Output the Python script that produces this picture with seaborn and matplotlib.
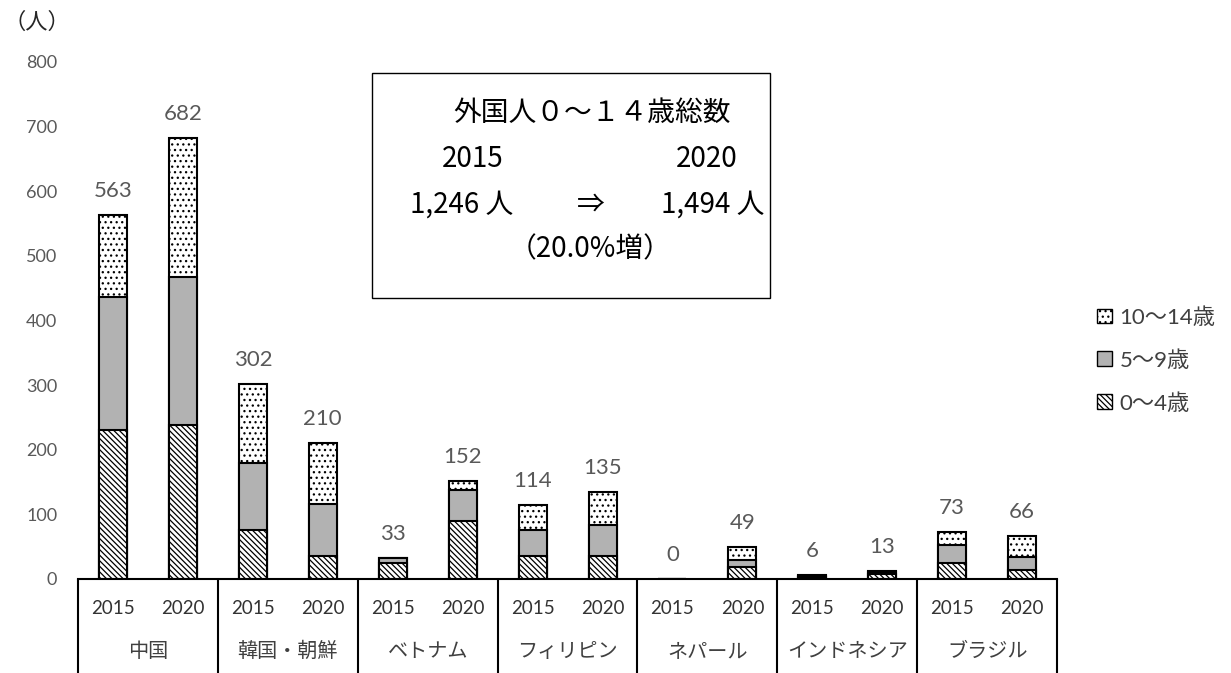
import numpy as np
import pandas as pd
import seaborn as sns
import matplotlib.pyplot as plt
from matplotlib.patches import Patch, Rectangle

sns.set_theme(style="white")
plt.rcParams['font.family'] = ['Lato', 'Noto Sans CJK JP', 'DejaVu Sans']
plt.rcParams['hatch.linewidth'] = 0.9
CJK = ['Noto Sans CJK JP', 'DejaVu Sans']

countries = ['中国', '韓国・朝鮮', 'ベトナム', 'フィリピン', 'ネパール', 'インドネシア', 'ブラジル']
years = ['2015', '2020']
age_0_4 = [231, 239, 76, 35, 24, 90, 35, 36, 0, 19, 3, 7, 25, 14]
age_5_9 = [205, 228, 104, 81, 9, 47, 41, 48, 0, 10, 2, 4, 27, 20]
age_10_14 = [127, 215, 122, 94, 0, 15, 38, 51, 0, 20, 1, 2, 21, 32]
totals = [563, 682, 302, 210, 33, 152, 114, 135, 0, 49, 6, 13, 73, 66]
legend_labels = ['10～14歳', '5～9歳', '0～4歳']

df = pd.DataFrame({
    'country': np.repeat(countries, 2),
    'year': years * len(countries),
    'a04': age_0_4,
    'a59': age_5_9,
    'a1014': age_10_14,
})
df['key'] = df['country'] + df['year']
df['c1'] = df['a04']
df['c2'] = df['c1'] + df['a59']
df['c3'] = df['c2'] + df['a1014']

DOTS = '...'
DIAG = '\\' * 6

fig, ax = plt.subplots(figsize=(12.31, 6.73), dpi=100)
fig.subplots_adjust(left=0.0634, right=0.8587, bottom=0.1397, top=0.9079)

bar_kw = dict(width=0.4, edgecolor='black', linewidth=1.5, saturation=1, errorbar=None, ax=ax)
sns.barplot(data=df, x='key', y='c3', color='white', hatch=DOTS, **bar_kw)
sns.barplot(data=df, x='key', y='c2', color='#b2b2b2', **bar_kw)
sns.barplot(data=df, x='key', y='c1', color='white', hatch=DIAG, **bar_kw)

ax.bar_label(ax.containers[0], labels=[str(t) for t in totals], padding=10,
             color='#595959', fontsize=16)

ax.set_xlim(-0.5, 13.5)
ax.set_ylim(0, 800)
ax.set_yticks(range(0, 801, 100))
ax.set_xticks([])
ax.set_xlabel('')
ax.set_ylabel('')
ax.tick_params(axis='y', length=0, pad=15, labelsize=13, labelcolor='#595959')
for s in ['left', 'top', 'right']:
    ax.spines[s].set_visible(False)
ax.spines['bottom'].set_color('black')
ax.spines['bottom'].set_linewidth(1.5)

# category table under the axis
trans = ax.get_xaxis_transform()
for i in range(len(df)):
    ax.text(i, -0.058, df['year'][i], transform=trans, ha='center', va='center',
            fontsize=13.5, color='#333333')
for g, c in enumerate(countries):
    ax.text(2 * g + 0.5, -0.141, c, transform=trans, ha='center', va='center',
            fontsize=14.5, color='#404040', family=CJK)
for b in np.arange(-0.5, 14, 2):
    ax.plot([b, b], [0, -0.19], transform=trans, color='black', lw=1.5, clip_on=False)

# legend
handles = [
    Patch(facecolor='white', edgecolor='black', hatch=DOTS, label=legend_labels[0]),
    Patch(facecolor='#b2b2b2', edgecolor='black', label=legend_labels[1]),
    Patch(facecolor='white', edgecolor='black', hatch=DIAG, label=legend_labels[2]),
]
fig.legend(handles=handles, loc='upper left', bbox_to_anchor=(1086 / 1231, 1 - 296 / 673),
           frameon=False, fontsize=16, handlelength=0.65, handleheight=0.65,
           handletextpad=0.35, labelspacing=1.0, borderpad=0, labelcolor='#404040')

# summary box
fig.add_artist(Rectangle((372 / 1231, 1 - 298 / 673), 398 / 1231, 225 / 673,
                         transform=fig.transFigure, fill=False, edgecolor='black', lw=1))
box_txt = dict(ha='center', va='center', fontsize=20, family=CJK, color='black')
fig.text(592 / 1231, 1 - 113 / 673, '外国人０～１４歳総数', **box_txt)
fig.text(473 / 1231, 1 - 159 / 673, '2015', **box_txt)
fig.text(707 / 1231, 1 - 159 / 673, '2020', **box_txt)
fig.text(462 / 1231, 1 - 205 / 673, '1,246 人', **box_txt)
fig.text(591 / 1231, 1 - 205 / 673, '⇒', **box_txt)
fig.text(713 / 1231, 1 - 205 / 673, '1,494 人', **box_txt)
fig.text(590 / 1231, 1 - 249 / 673, '（20.0%増）', **box_txt)

fig.text(0.003, 1 - 22 / 673, '（人）', fontsize=16, va='center', family=CJK)

fig.savefig('out.png', dpi=100)
